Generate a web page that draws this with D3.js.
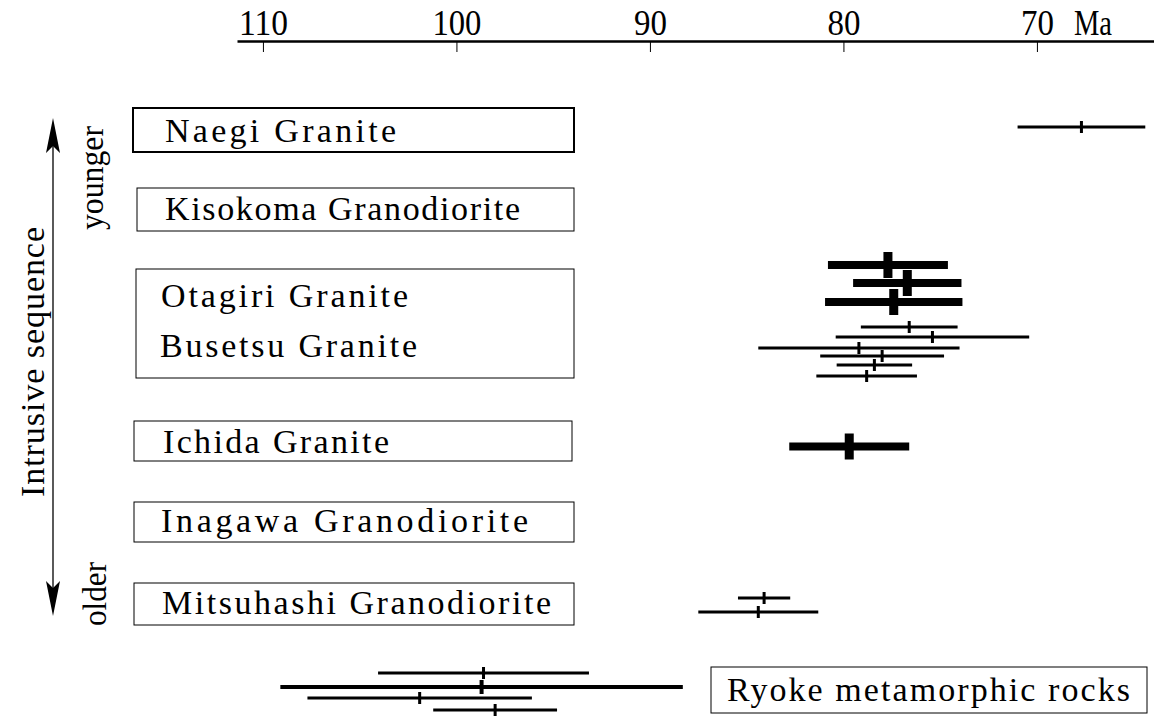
<!DOCTYPE html>
<html><head><meta charset="utf-8">
<script src="https://cdn.jsdelivr.net/npm/d3@7"></script>
<style>body{margin:0;background:#fff}svg{display:block}</style>
</head><body><div id="c"></div>
<script>
// ---- data ----
const tickValues = [110, 100, 90, 80, 70];
const tickUnit = "Ma";
const units = ["Naegi Granite", "Kisokoma Granodiorite", "Otagiri Granite", "Busetsu Granite",
  "Ichida Granite", "Inagawa Granodiorite", "Mitsuhashi Granodiorite", "Ryoke metamorphic rocks"];
// age determinations: age (Ma), error (Ma), weight class, sequence slot
const sampleUnit  = ["Naegi", "Otagiri", "Otagiri", "Otagiri", "Busetsu", "Busetsu", "Busetsu", "Busetsu", "Busetsu", "Busetsu",
  "Ichida", "Mitsuhashi", "Mitsuhashi", "Ryoke", "Ryoke", "Ryoke", "Ryoke"];
const sampleAge   = [67.7, 77.7, 76.7, 77.4, 76.6, 75.4, 79.2, 78.0, 78.4, 78.8, 79.7, 84.1, 84.4, 98.6, 98.7, 101.9, 98.0];
const sampleErr   = [3.3, 3.1, 2.8, 3.55, 2.5, 5.0, 5.2, 3.2, 1.95, 2.6, 3.1, 1.35, 3.1, 5.45, 10.4, 5.8, 3.2];
const sampleKind  = ["thin", "thick", "thick", "thick", "thin", "thin", "thin", "thin", "thin", "thin",
  "thick", "thin", "thin", "thin", "mid", "thin", "thin"];
const sampleSlot  = [12.7, 26.5, 28.3, 30.2, 32.7, 33.7, 34.8, 35.6, 36.5, 37.6, 44.65, 59.8, 61.2, 67.3, 68.7, 69.8, 71.0];
const sequenceLabels = ["Intrusive sequence", "younger", "older"];

// ---- layout ----
const FONT = '"Liberation Serif", "Times New Roman", Times, serif';
const W = 1154, H = 716;
const svg = d3.select("#c").append("svg").attr("width", W).attr("height", H)
  .attr("font-family", FONT);
const x = d3.scaleLinear().domain([111.34, 63.95]).range([237, 1154]);
const y = d3.scaleLinear().domain([0, 71.6]).range([0, 716]);

// axis
const axisY = 41;
const gTop = svg.append("g").attr("transform", `translate(0,${axisY})`)
  .call(d3.axisTop(x).tickValues(tickValues).tickSize(0).tickPadding(6).tickFormat(d3.format("d")));
gTop.attr("font-family", FONT).attr("font-size", 35);
gTop.select(".domain").attr("stroke", "#000").attr("stroke-width", 2.5);
gTop.selectAll("text").attr("fill", "#000").attr("font-family", FONT)
  .attr("textLength", d => d >= 100 ? 49 : 33).attr("lengthAdjust", "spacingAndGlyphs");
const gTicks = svg.append("g").attr("transform", `translate(0,${axisY})`)
  .call(d3.axisBottom(x).tickValues(tickValues).tickSize(11).tickFormat(""));
gTicks.select(".domain").remove();
gTicks.selectAll("line").attr("stroke", "#000").attr("stroke-width", 1);
svg.append("text").attr("x", x(70) + 56).attr("y", axisY - 6).attr("text-anchor", "middle")
  .attr("font-family", FONT).attr("font-size", 35)
  .attr("textLength", 38).attr("lengthAdjust", "spacingAndGlyphs").text(tickUnit);

// boxes
const boxes = [
  {x0: 133, x1: 574, y0: 108, y1: 152, sw: 2, labels: [[0, 165, 142, 231]]},
  {x0: 137, x1: 574, y0: 188, y1: 231, sw: 1, labels: [[1, 165, 220, 355]]},
  {x0: 136, x1: 574, y0: 269, y1: 378, sw: 1, labels: [[2, 161, 307, 247], [3, 160, 357, 257]]},
  {x0: 134, x1: 572, y0: 421, y1: 461, sw: 1, labels: [[4, 163, 453, 226]]},
  {x0: 134, x1: 574, y0: 502, y1: 542, sw: 1, labels: [[5, 161, 532, 367]]},
  {x0: 134, x1: 574, y0: 583, y1: 625, sw: 1, labels: [[6, 162, 614, 389]]},
  {x0: 711, x1: 1147, y0: 667, y1: 713, sw: 1, labels: [[7, 727, 701, 403]]}
];
boxes.forEach(b => {
  svg.append("rect").attr("x", b.x0).attr("y", b.y0).attr("width", b.x1 - b.x0).attr("height", b.y1 - b.y0)
    .attr("fill", "none").attr("stroke", "#000").attr("stroke-width", b.sw);
  b.labels.forEach(([i, lx, ly, len]) => {
    svg.append("text").attr("x", lx).attr("y", ly).attr("font-size", 34).attr("font-family", FONT)
      .attr("textLength", len).attr("lengthAdjust", "spacing").text(units[i]);
  });
});

// error bars
const samples = sampleAge.map((a, i) => ({age: a, err: sampleErr[i], kind: sampleKind[i], slot: sampleSlot[i]}));
const style = {thin: {sw: 3, tw: 3, th: 12}, mid: {sw: 4, tw: 4, th: 14}, thick: {sw: 8, tw: 9, th: 26}};
const g = svg.append("g");
samples.forEach(s => {
  const st = style[s.kind], yy = y(s.slot);
  g.append("line").attr("x1", x(s.age + s.err)).attr("x2", x(s.age - s.err)).attr("y1", yy).attr("y2", yy)
    .attr("stroke", "#000").attr("stroke-width", st.sw);
  g.append("rect").attr("x", x(s.age) - st.tw / 2).attr("y", yy - st.th / 2).attr("width", st.tw).attr("height", st.th)
    .attr("fill", "#000");
});

// sequence arrow
const ax = 53, aTop = 118, aBot = 616;
svg.append("line").attr("x1", ax).attr("x2", ax).attr("y1", aTop + 20).attr("y2", aBot - 20)
  .attr("stroke", "#000").attr("stroke-width", 1.3);
svg.append("path").attr("d", `M${ax},${aTop} L${ax - 7},${aTop + 35} L${ax},${aTop + 28} L${ax + 7},${aTop + 35} Z`).attr("fill", "#000");
svg.append("path").attr("d", `M${ax},${aBot} L${ax - 7},${aBot - 35} L${ax},${aBot - 28} L${ax + 7},${aBot - 35} Z`).attr("fill", "#000");
svg.append("text").attr("transform", "translate(44,362) rotate(-90)").attr("text-anchor", "middle")
  .attr("font-size", 34).attr("font-family", FONT).attr("textLength", 270).attr("lengthAdjust", "spacing").text(sequenceLabels[0]);
svg.append("text").attr("transform", "translate(103,178) rotate(-90)").attr("text-anchor", "middle")
  .attr("font-size", 34).attr("font-family", FONT)
  .attr("textLength", 104).attr("lengthAdjust", "spacingAndGlyphs").text(sequenceLabels[1]);
svg.append("text").attr("transform", "translate(106,594) rotate(-90)").attr("text-anchor", "middle")
  .attr("font-size", 34).attr("font-family", FONT)
  .attr("textLength", 64).attr("lengthAdjust", "spacingAndGlyphs").text(sequenceLabels[2]);
</script></body></html>
